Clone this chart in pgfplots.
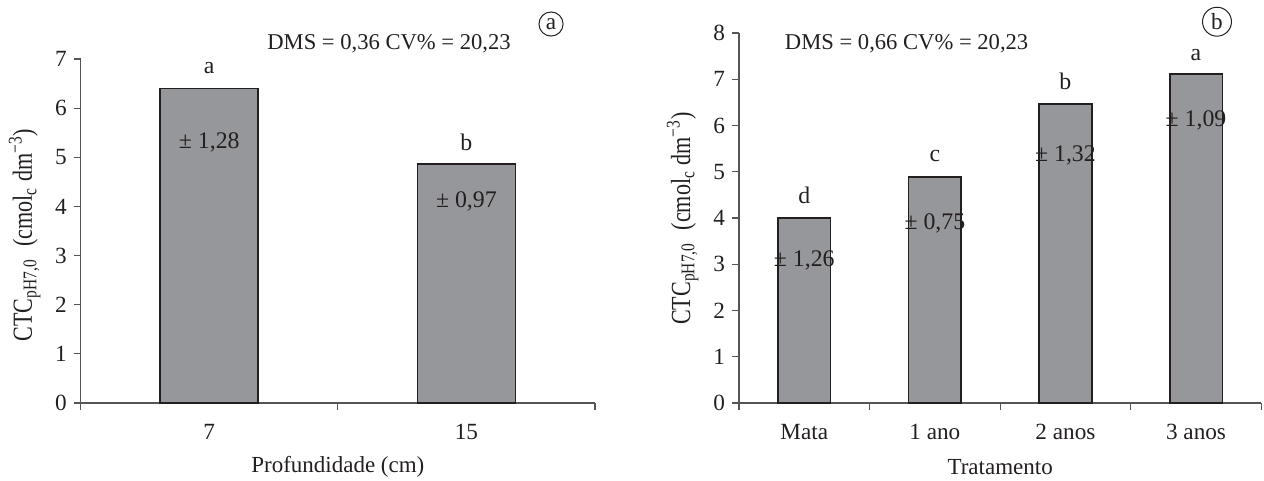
\documentclass[border=0pt]{standalone}
\usepackage{pgfplots}
\pgfplotsset{compat=1.18}
\usepackage{fontspec}
\setmainfont{Liberation Serif}
\newfontfamily\condfont{Liberation Serif}[FakeStretch=0.8]
\definecolor{barfill}{RGB}{150,151,155}
\definecolor{ink}{RGB}{35,31,32}
\definecolor{axisgray}{RGB}{85,85,85}
\newcommand{\tf}{\fontsize{11.6}{13.5}\selectfont}
\newcommand{\vf}{\fontsize{11.9}{13.5}\selectfont}
\newcommand{\df}{\fontsize{11.3}{13.5}\selectfont}
\newcommand{\yl}{CTC\textsubscript{pH7,0}\hspace{0.45em}(cmol\textsubscript{c} dm\textsuperscript{\char"2212 3})}
\pgfplotsset{mystyle/.style={
  scale only axis, anchor=south west, clip=false,
  axis lines*=left,
  axis line style={axisgray, line width=0.6pt},
  every tick/.style={axisgray, line width=0.6pt},
  tick align=outside, major tick length=3.5pt,
  ymin=0, ytick distance=1,
  xticklabels={},
  extra x tick style={major tick length=0pt, tick style={draw=none}},
  /pgf/number format/assume math mode=true,
  tick label style={font=\tf, text=ink},
  xticklabel style={yshift=-7pt},
  label style={font=\fontsize{11.5}{13.5}\selectfont, text=ink},
  ylabel style={anchor=base, rotate=0, font=\condfont\fontsize{13.8}{16}\selectfont},
}}
\begin{document}
\begin{tikzpicture}
\useasboundingbox (0,0) rectangle (632pt,240.5pt);
% ---------- panel a ----------
\begin{axis}[mystyle,
  at={(40.35pt,39pt)}, width=257.15pt, height=172pt,
  xmin=-0.5, xmax=1.5, ymax=7,
  xtick={-0.5,0.5,1.5},
  extra x ticks={0,1}, extra x tick labels={7,15},
  xlabel={Profundidade (cm)},
  xlabel style={at={(axis description cs:0.5,-0.186)}, anchor=center},
  ylabel={\yl},
  ylabel style={at={(axis description cs:-0.0947,0.488)}},
]
\addplot[ybar, bar width=49pt, fill=barfill, draw=ink, line width=0.8pt]
  coordinates {(0,6.40) (1,4.86)};
\node[font=\vf, text=ink] at (axis cs:0,6.82) {a};
\node[font=\vf, text=ink] at (axis cs:1,5.31) {b};
\node[font=\vf, text=ink] at (axis cs:0,5.30) {± 1,28};
\node[font=\vf, text=ink] at (axis cs:1,4.11) {± 0,97};
\node[font=\df, text=ink] at (axis description cs:0.5995,1.0436) {DMS = 0,36 CV\% = 20,23};
\node[font=\tf, text=ink, draw=ink, circle, inner sep=1.6pt, line width=0.5pt] at (axis description cs:0.9145,1.1017) {a};
\end{axis}
% ---------- panel b ----------
\begin{axis}[mystyle,
  at={(369.5pt,39pt)}, width=261.15pt, height=185pt,
  xmin=-0.5, xmax=3.5, ymax=8,
  xtick={-0.5,0.5,1.5,2.5,3.5},
  extra x ticks={0,1,2,3}, extra x tick labels={Mata,1 ano,2 anos,3 anos},
  xlabel={Tratamento},
  xlabel style={at={(axis description cs:0.5,-0.173)}, anchor=center},
  ylabel={\yl},
  ylabel style={at={(axis description cs:-0.0938,0.4986)}},
]
\addplot[ybar, bar width=26.3pt, fill=barfill, draw=ink, line width=0.8pt]
  coordinates {(0,4.00) (1,4.89) (2,6.46) (3,7.11)};
\node[font=\vf, text=ink] at (axis cs:0,4.48) {d};
\node[font=\vf, text=ink] at (axis cs:1,5.34) {c};
\node[font=\vf, text=ink] at (axis cs:2,6.95) {b};
\node[font=\vf, text=ink] at (axis cs:3,7.53) {a};
\node[font=\vf, text=ink] at (axis cs:0,3.09) {± 1,26};
\node[font=\vf, text=ink] at (axis cs:1,3.89) {± 0,75};
\node[font=\vf, text=ink] at (axis cs:2,5.36) {± 1,32};
\node[font=\vf, text=ink] at (axis cs:3,6.10) {± 1,09};
\node[font=\df, text=ink] at (axis description cs:0.3209,0.9716) {DMS = 0,66 CV\% = 20,23};
\node[font=\tf, text=ink, draw=ink, circle, inner sep=1.6pt, line width=0.5pt] at (axis description cs:0.9152,1.0305) {b};
\end{axis}
\end{tikzpicture}
\end{document}
